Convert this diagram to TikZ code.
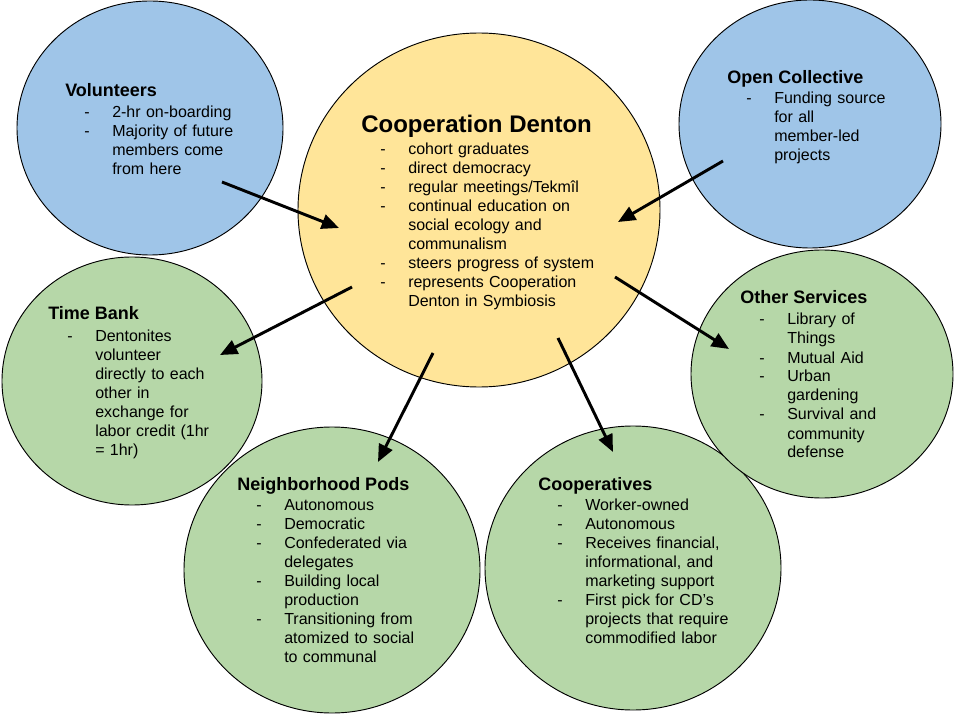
\documentclass[tikz,border=0pt]{standalone}
\usepackage{fontspec}
\setmainfont{Liberation Sans}
\usetikzlibrary{shapes.geometric,arrows.meta}
\definecolor{cblue}{HTML}{9FC5E8}
\definecolor{cyellow}{HTML}{FFE599}
\definecolor{cgreen}{HTML}{B6D7A8}
\newcommand{\itm}[1]{\noindent\llap{\makebox[21pt][l]{-}}#1\par}
\newcommand{\bodyset}{\raggedright\leftskip=35.25pt\relax\parindent=0pt\relax}
\tikzset{
  bubble/.style={ellipse, draw=black, line width=0.7pt, inner sep=0pt},
  ttl/.style={anchor=base west, inner sep=0pt, font=\fontsize{13.5pt}{16pt}\selectfont\bfseries},
  bigttl/.style={anchor=base west, inner sep=0pt, font=\fontsize{18pt}{21pt}\selectfont\bfseries},
  body/.style={anchor=base west, inner sep=0pt, text width=230pt,
    font=\fontsize{12pt}{14.25pt}\selectfont},
  link/.style={line width=2.2pt, -{Triangle[length=13pt,width=11pt]}}
}
\begin{document}
\begin{tikzpicture}[x=0.75pt,y=-0.75pt]
\useasboundingbox (0,0) rectangle (960,720);
% bubbles
\node[bubble, fill=cblue, minimum width=199.5pt, minimum height=190.5pt] (vol) at (150,128) {};
\node[bubble, fill=cblue, minimum width=196.5pt, minimum height=186pt] (oc) at (810,124) {};
\node[bubble, fill=cgreen, minimum width=195pt, minimum height=186pt] (tb) at (132,381) {};
\node[bubble, fill=cgreen, minimum width=222pt, minimum height=214.5pt] (np) at (332,570) {};
\node[bubble, fill=cgreen, minimum width=222pt, minimum height=213pt] (co) at (633,568) {};
\node[bubble, fill=cgreen, minimum width=196.5pt, minimum height=186pt] (os) at (822,374) {};
\node[bubble, fill=cyellow, minimum width=271.5pt, minimum height=265.5pt] (cd) at (479,210) {};
% texts
\node[ttl] (volT) at (65,97) {Volunteers};
\node[body] (volB) at (65,117.5) {\bodyset\itm{2-hr on-boarding}\itm{Majority of future\\members come\\from here}};
\node[bigttl] (cdT) at (361,133) {Cooperation Denton};
\node[body] (cdB) at (361,155) {\bodyset\itm{cohort graduates}\itm{direct democracy}\itm{regular meetings/Tekmîl}\itm{continual education on\\social ecology and\\communalism}\itm{steers progress of system}\itm{represents Cooperation\\Denton in Symbiosis}};
\node[ttl] (ocT) at (727,84) {Open Collective};
\node[body] (ocB) at (727,104) {\bodyset\itm{Funding source\\for all\\member-led\\projects}};
\node[ttl] (tbT) at (48,320) {Time Bank};
\node[body] (tbB) at (48,341) {\bodyset\itm{Dentonites\\volunteer\\directly to each\\other in\\exchange for\\labor credit (1hr\\= 1hr)}};
\node[ttl] (osT) at (740,304) {Other Services};
\node[body] (osB) at (740,325) {\bodyset\itm{Library of\\Things}\itm{Mutual Aid}\itm{Urban\\gardening}\itm{Survival and\\community\\defense}};
\node[ttl] (npT) at (237,490) {Neighborhood Pods};
\node[body] (npB) at (237,510) {\bodyset\itm{Autonomous}\itm{Democratic}\itm{Confederated via\\delegates}\itm{Building local\\production}\itm{Transitioning from\\atomized to social\\to communal}};
\node[ttl] (coT) at (538,490) {Cooperatives};
\node[body] (coB) at (538,510) {\bodyset\itm{Worker-owned}\itm{Autonomous}\itm{Receives financial,\\informational, and\\marketing support}\itm{First pick for CD’s\\projects that require\\commodified labor}};
% connector ends
\coordinate (a1s) at (222,182); \coordinate (a1e) at (339,228);
\coordinate (a2s) at (723,161); \coordinate (a2e) at (618,222);
\coordinate (a3s) at (352,287); \coordinate (a3e) at (220,355);
\coordinate (a4s) at (615,277); \coordinate (a4e) at (729,349);
\coordinate (a5s) at (433,353); \coordinate (a5e) at (378,462);
\coordinate (a6s) at (558,338); \coordinate (a6e) at (613,452);
\draw[link] (a1s) -- (a1e);
\draw[link] (a2s) -- (a2e);
\draw[link] (a3s) -- (a3e);
\draw[link] (a4s) -- (a4e);
\draw[link] (a5s) -- (a5e);
\draw[link] (a6s) -- (a6e);
\end{tikzpicture}
\end{document}
